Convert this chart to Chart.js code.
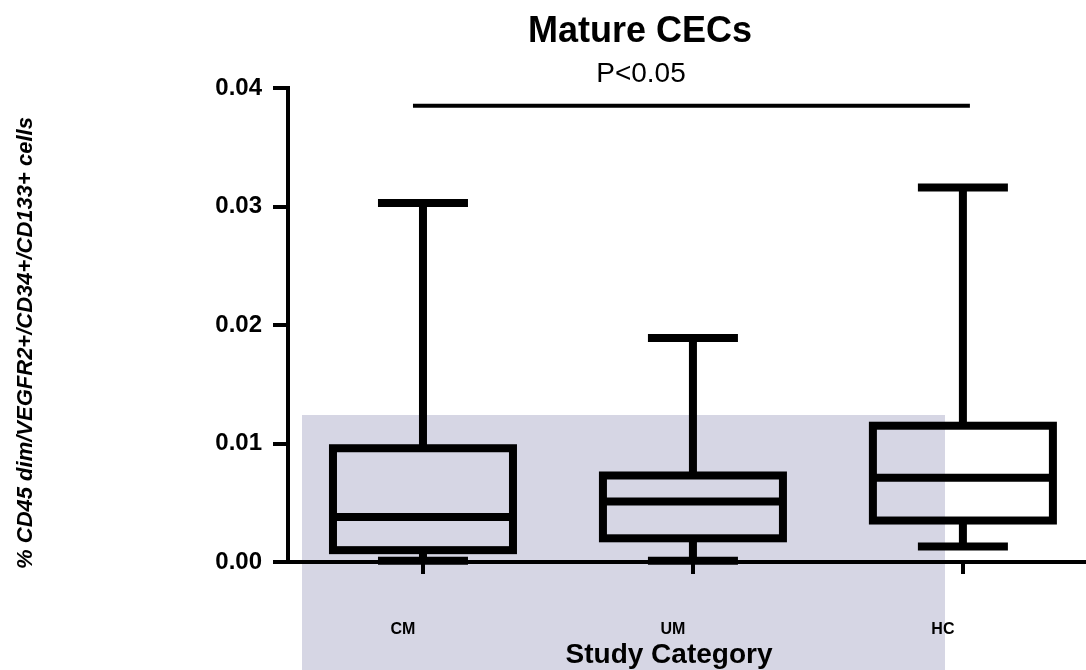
<!DOCTYPE html>
<html>
<head>
<meta charset="utf-8">
<title>Mature CECs</title>
<script src="https://cdn.jsdelivr.net/npm/chart.js@4/dist/chart.umd.min.js"></script>
<style>
    html, body { margin: 0; padding: 0; background: #fff; }
    #wrap { width: 1086px; height: 670px; position: relative; }
</style>
</head>
<body>
<div id="wrap"><canvas id="chart"></canvas></div>
<script>
// Data
const categories = ['CM', 'UM', 'HC'];
const whiskerMin = [0.0001, 0.0001, 0.0013];
const q1 = [0.0010, 0.0020, 0.0035];
const median = [0.0038, 0.0051, 0.0071];
const q3 = [0.0096, 0.0073, 0.0115];
const whiskerMax = [0.0303, 0.0189, 0.0316];
const yTicks = [0, 0.01, 0.02, 0.03, 0.04];

// significance bar between CM and HC
const sigFrom = 1;
const sigTo = 3;
const sigLevel = 0.0385;
const sigLabel = 'P<0.05';

const FONT = '"Liberation Sans", Arial, sans-serif';

// pale watermark panel behind the plot (from the scanned source)
const backdrop = {
    id: 'backdrop',
    beforeDraw(chart) {
        const ctx = chart.ctx;
        ctx.save();
        ctx.fillStyle = '#ffffff';
        ctx.fillRect(0, 0, chart.width, chart.height);
        ctx.fillStyle = 'rgb(214, 214, 228)';
        ctx.fillRect(302, 415, 643, 255);
        ctx.restore();
    }
};

// box and whisker marks, drawn through the chart's scales
const boxWhisker = {
    id: 'boxWhisker',
    afterDatasetsDraw(chart) {
        const { ctx, scales: { x, y } } = chart;
        const halfBox = 90;
        const halfCap = 45;
        ctx.save();
        ctx.strokeStyle = '#000';
        ctx.lineWidth = 8;
        ctx.lineCap = 'butt';
        categories.forEach((c, i) => {
            const cx = x.getPixelForValue(i + 1);
            const yMin = y.getPixelForValue(whiskerMin[i]);
            const yQ1 = y.getPixelForValue(q1[i]);
            const yMed = y.getPixelForValue(median[i]);
            const yQ3 = y.getPixelForValue(q3[i]);
            const yMax = y.getPixelForValue(whiskerMax[i]);

            ctx.beginPath();
            // whiskers
            ctx.moveTo(cx, yQ3); ctx.lineTo(cx, yMax);
            ctx.moveTo(cx, yQ1); ctx.lineTo(cx, yMin);
            // caps
            ctx.moveTo(cx - halfCap, yMax); ctx.lineTo(cx + halfCap, yMax);
            ctx.moveTo(cx - halfCap, yMin); ctx.lineTo(cx + halfCap, yMin);
            // median
            ctx.moveTo(cx - halfBox, yMed); ctx.lineTo(cx + halfBox, yMed);
            ctx.stroke();

            ctx.lineJoin = 'miter';
            ctx.strokeRect(cx - halfBox, yQ3, halfBox * 2, yQ1 - yQ3);
        });

        // significance bar
        const sy = y.getPixelForValue(sigLevel);
        ctx.lineWidth = 4;
        ctx.beginPath();
        ctx.moveTo(x.getPixelForValue(sigFrom) - 10, sy);
        ctx.lineTo(x.getPixelForValue(sigTo) + 7, sy);
        ctx.stroke();
        ctx.restore();
    }
};

// titles placed like the original figure
const labels = {
    id: 'labels',
    afterDraw(chart) {
        const ctx = chart.ctx;
        ctx.save();
        ctx.fillStyle = '#000';
        ctx.textAlign = 'center';
        ctx.textBaseline = 'alphabetic';

        ctx.font = 'bold 36px ' + FONT;
        ctx.fillText('Mature CECs', 640, 42);

        ctx.font = '28px ' + FONT;
        ctx.fillText(sigLabel, 641, 82);

        ctx.font = 'bold 28px ' + FONT;
        ctx.fillText('Study Category', 669, 663);

        ctx.translate(26, 343);
        ctx.rotate(-Math.PI / 2);
        ctx.textBaseline = 'middle';
        ctx.font = 'italic bold 22px ' + FONT;
        ctx.fillText('% CD45 dim/VEGFR2+/CD34+/CD133+ cells', 0, 0);
        ctx.restore();
    }
};

const ctx = document.getElementById('chart');
new Chart(ctx, {
    type: 'scatter',
    data: {
        datasets: [{
            data: median.map((m, i) => ({ x: i + 1, y: m })),
            pointRadius: 0,
            pointHoverRadius: 0
        }]
    },
    options: {
        responsive: true,
        maintainAspectRatio: false,
        animation: false,
        events: [],
        layout: { padding: { top: 88, left: 0, right: 0, bottom: 0 } },
        plugins: {
            legend: { display: false },
            tooltip: { enabled: false },
            title: { display: false }
        },
        scales: {
            x: {
                type: 'linear',
                min: 0.5,
                max: 3.456,
                afterFit(scale) { scale.height = 108; },
                afterBuildTicks(scale) {
                    scale.ticks = categories.map((_, i) => ({ value: i + 1 }));
                },
                grid: {
                    drawOnChartArea: false,
                    drawTicks: true,
                    tickLength: 12,
                    lineWidth: 4,
                    tickWidth: 4,
                    color: '#000',
                    tickColor: '#000'
                },
                border: { display: true, width: 4, color: '#000' },
                ticks: {
                    color: '#000',
                    padding: 46,
                    labelOffset: -20,
                    maxRotation: 0,
                    font: { family: FONT, size: 16, weight: 'bold' },
                    callback: (v) => categories[v - 1]
                }
            },
            y: {
                type: 'linear',
                min: 0,
                max: 0.04,
                afterFit(scale) { scale.width = 288; },
                afterBuildTicks(scale) {
                    scale.ticks = yTicks.map((v) => ({ value: v }));
                },
                grid: {
                    drawOnChartArea: false,
                    drawTicks: true,
                    tickLength: 15,
                    lineWidth: 4,
                    tickWidth: 4,
                    color: '#000',
                    tickColor: '#000'
                },
                border: { display: true, width: 4, color: '#000' },
                ticks: {
                    color: '#000',
                    padding: 11,
                    font: { family: FONT, size: 24, weight: 'bold' },
                    callback: (v) => v.toFixed(2)
                }
            }
        }
    },
    plugins: [backdrop, boxWhisker, labels]
});
</script>
</body>
</html>
